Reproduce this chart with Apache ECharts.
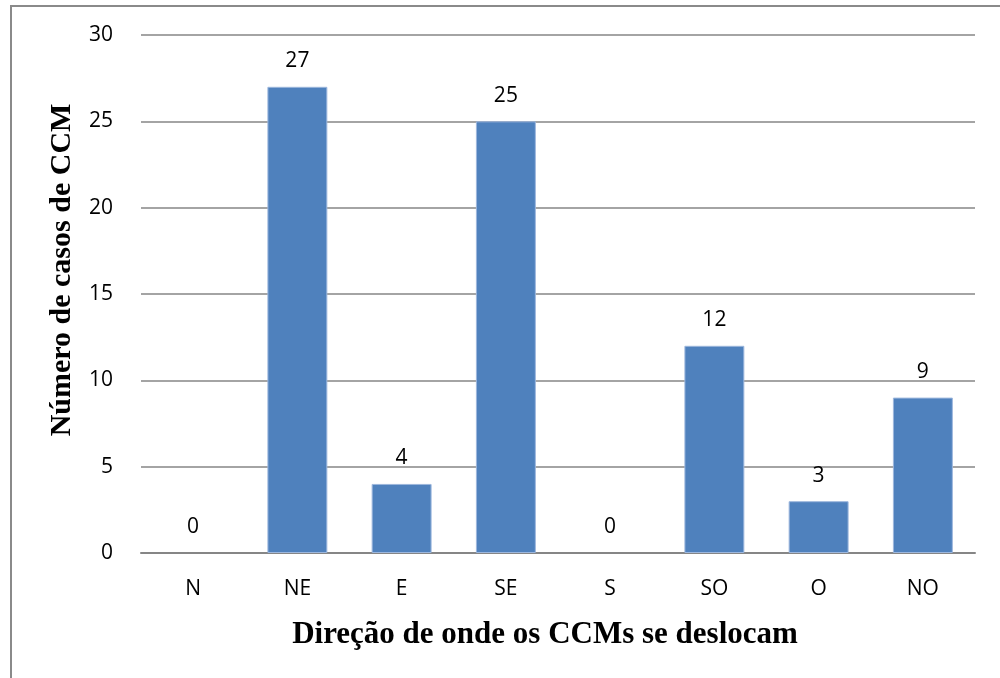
<!DOCTYPE html>
<html>
<head>
<meta charset="utf-8">
<script src="https://cdn.jsdelivr.net/npm/echarts@6/dist/echarts.min.js"></script>
<style>
  html, body { margin: 0; padding: 0; background: #fff; overflow: hidden; }
  #frame { position: absolute; left: 10px; top: 5px; width: 1200px; height: 900px; border: 2px solid #8a8a8a; }
  #chart { position: absolute; left: 0; top: 0; width: 1000px; height: 678px; }
</style>
</head>
<body>
<div id="frame"></div>
<div id="chart"></div>
<script>
// direções de deslocamento
const categories = ['N', 'NE', 'E', 'SE', 'S', 'SO', 'O', 'NO']
// número de casos
const casos = [0, 27, 4, 25, 0, 12, 3, 9]
const yTicks = [0, 5, 10, 15, 20, 25, 30]

const labelFont = '"Open Sans", sans-serif'
const titleFont = '"Liberation Serif", "Times New Roman", serif'

const chart = echarts.init(document.getElementById('chart'))

const option = {
  animation: false,
  grid: { left: 141, right: 25, top: 35, bottom: 125 },
  xAxis: {
    type: 'category',
    data: categories,
    name: 'Direção de onde os CCMs se deslocam',
    nameLocation: 'middle',
    nameGap: 82,
    nameTextStyle: {
      fontFamily: titleFont, fontWeight: 'bold', fontSize: 31, color: '#000',
      verticalAlign: 'middle', padding: [0, 26, 0, 0]
    },
    axisLine: { lineStyle: { color: '#868686', width: 2 } },
    axisTick: { show: false },
    axisLabel: { margin: 26, fontFamily: labelFont, fontSize: 21, color: '#000' }
  },
  yAxis: {
    type: 'value',
    min: yTicks[0],
    max: yTicks[yTicks.length - 1],
    interval: 5,
    name: 'Número de casos de CCM',
    nameLocation: 'middle',
    nameGap: 79,
    nameTextStyle: {
      fontFamily: titleFont, fontWeight: 'bold', fontSize: 30, color: '#000',
      verticalAlign: 'middle', padding: [0, 0, 0, 48]
    },
    axisLine: { show: false },
    axisTick: { show: false },
    axisLabel: { margin: 28, fontFamily: labelFont, fontSize: 21, color: '#000' },
    splitLine: { lineStyle: { color: '#868686', width: 1.5 } }
  },
  series: [{
    type: 'bar',
    // barras com valor zero sem contorno
    data: casos.map(v => v === 0 ? { value: v, itemStyle: { borderWidth: 0 } } : v),
    barWidth: '57.5%',
    itemStyle: { color: '#4F81BD', borderColor: '#9db7dd', borderWidth: 1 },
    label: {
      show: true,
      position: 'top',
      distance: 15,
      fontFamily: labelFont,
      fontSize: 21,
      color: '#000'
    }
  }]
}

chart.setOption(option)
</script>
</body>
</html>
